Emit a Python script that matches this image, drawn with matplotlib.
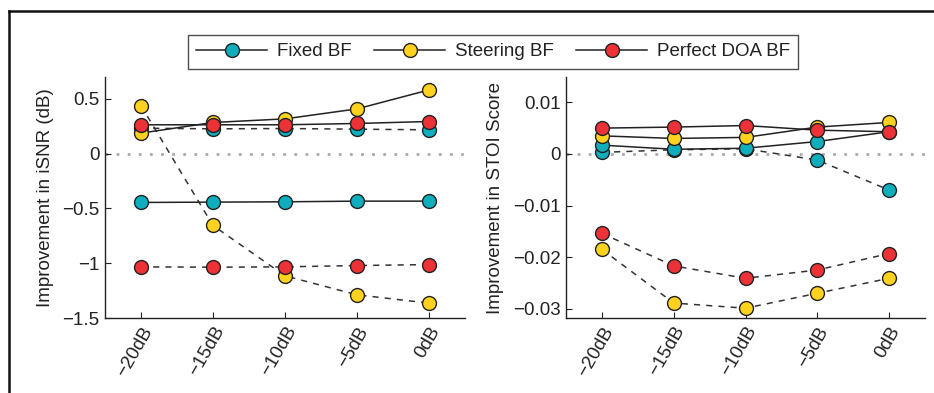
import matplotlib
matplotlib.use('Agg')
import matplotlib.pyplot as plt
from matplotlib.lines import Line2D

plt.rcParams['font.family'] = ['Liberation Sans', 'DejaVu Sans']
plt.rcParams['font.size'] = 13.5
plt.rcParams['axes.unicode_minus'] = True

snr_labels = ['\u221220dB', '\u221215dB', '\u221210dB', '\u22125dB', '0dB']
methods = ['Fixed BF', 'Steering BF', 'Perfect DOA BF']
colors = ['#0FAEBD', '#FED21E', '#EC3237']

# iSNR improvement (dB): solid and dashed conditions
isnr_fixed_solid = [-0.445, -0.442, -0.439, -0.433, -0.433]
isnr_steer_solid = [0.188, 0.285, 0.318, 0.409, 0.582]
isnr_doa_solid = [0.264, 0.264, 0.264, 0.276, 0.294]
isnr_fixed_dashed = [0.233, 0.227, 0.230, 0.224, 0.218]
isnr_steer_dashed = [0.439, -0.655, -1.115, -1.288, -1.364]
isnr_doa_dashed = [-1.033, -1.036, -1.033, -1.021, -1.012]

# STOI score improvement
stoi_fixed_solid = [0.0017, 0.0009, 0.0011, 0.0024, 0.0043]
stoi_steer_solid = [0.0035, 0.0030, 0.0032, 0.0052, 0.0061]
stoi_doa_solid = [0.0050, 0.0052, 0.0055, 0.0046, 0.0043]
stoi_fixed_dashed = [0.0003, 0.0008, 0.0010, -0.0012, -0.0070]
stoi_steer_dashed = [-0.0185, -0.0289, -0.0299, -0.0270, -0.0241]
stoi_doa_dashed = [-0.0154, -0.0217, -0.0241, -0.0225, -0.0193]

x = list(range(1, len(snr_labels) + 1))

fig = plt.figure(figsize=(9.34, 3.93), dpi=100)
ax1 = fig.add_axes([0.1124, 0.1908, 0.3854, 0.6132])
ax2 = fig.add_axes([0.6060, 0.1908, 0.3844, 0.6132])

mk = dict(marker='o', markersize=10, markeredgecolor='#222222', markeredgewidth=1.0)


def draw(ax, solid, dashed, ylim, yticks, yticklabels, ylabel):
    ax.axhline(0, color='#aaaaaa', linestyle=(0, (1, 3)), linewidth=2, zorder=1)
    # dashed condition first, solid one goes on top
    for vals, c in zip(dashed, colors):
        ax.plot(x, vals, color='#333333', linestyle=(0, (4, 4)), linewidth=1.1,
                markerfacecolor=c, zorder=3, **mk)
    for vals, c in zip(solid, colors):
        ax.plot(x, vals, color='#222222', linestyle='-', linewidth=1.1,
                markerfacecolor=c, zorder=3, **mk)
    ax.set_xlim(0.5, 5.5)
    ax.set_ylim(*ylim)
    ax.set_yticks(yticks)
    ax.set_yticklabels(yticklabels)
    ax.set_xticks(x)
    ax.set_xticklabels(snr_labels, rotation=60, ha='right', rotation_mode='anchor')
    ax.spines['top'].set_visible(False)
    ax.spines['right'].set_visible(False)
    for s in ('left', 'bottom'):
        ax.spines[s].set_color('#222222')
        ax.spines[s].set_linewidth(1.0)
    ax.tick_params(direction='in', length=4, width=0.8, color='#222222',
                   labelcolor='#222222', pad=4)
    ax.set_ylabel(ylabel, color='#222222', labelpad=6)


draw(ax1, [isnr_fixed_solid, isnr_steer_solid, isnr_doa_solid],
     [isnr_fixed_dashed, isnr_steer_dashed, isnr_doa_dashed],
     (-1.5, 0.7), [-1.5, -1, -0.5, 0, 0.5],
     ['\u22121.5', '\u22121', '\u22120.5', '0', '0.5'],
     'Improvement in iSNR (dB)')
draw(ax2, [stoi_fixed_solid, stoi_steer_solid, stoi_doa_solid],
     [stoi_fixed_dashed, stoi_steer_dashed, stoi_doa_dashed],
     (-0.0318, 0.0149), [-0.03, -0.02, -0.01, 0, 0.01],
     ['\u22120.03', '\u22120.02', '\u22120.01', '0', '0.01'],
     'Improvement in STOI Score')

handles = [Line2D([], [], color='#222222', linewidth=1.1, markerfacecolor=c, **mk)
           for c in colors]
leg = fig.legend(handles, methods, ncol=3, loc='center',
                 bbox_to_anchor=(493 / 934, 1 - 51.5 / 393),
                 frameon=True, fancybox=False, edgecolor='#222222',
                 handlelength=3.8, handletextpad=0.5, columnspacing=1.2,
                 borderpad=0.45)
leg.get_frame().set_linewidth(1.0)
for t in leg.get_texts():
    t.set_color('#222222')

# outer frame lines (top and left)
fig.add_artist(Line2D([9 / 934, 1.0], [1 - 11 / 393, 1 - 11 / 393],
                      transform=fig.transFigure, color='#111111', linewidth=1.8))
fig.add_artist(Line2D([9 / 934, 9 / 934], [0.0, 1 - 11 / 393],
                      transform=fig.transFigure, color='#111111', linewidth=1.8))

fig.savefig('out.png', dpi=100)
